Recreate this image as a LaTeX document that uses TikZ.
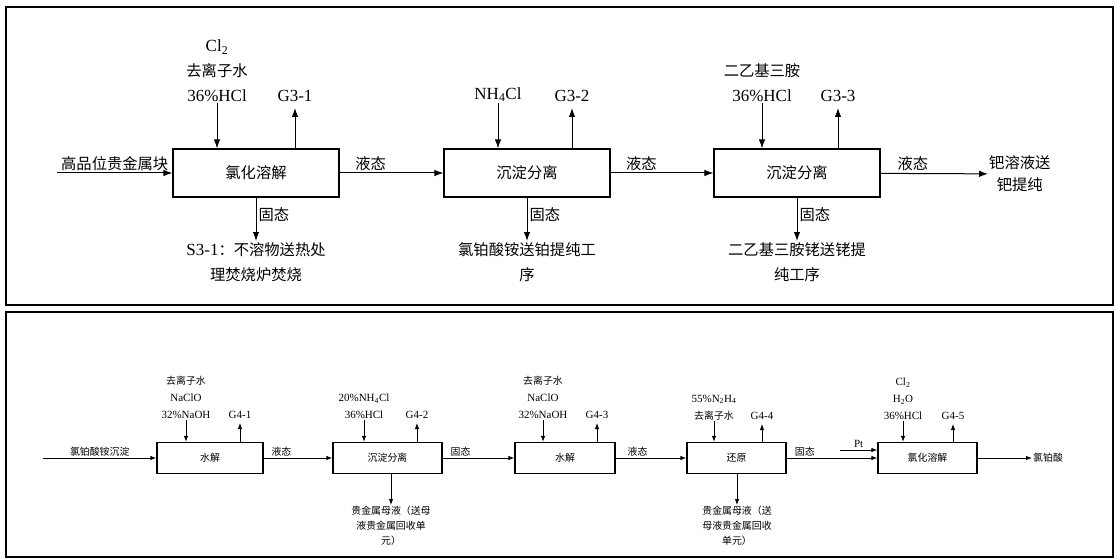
\documentclass[tikz,border=0pt]{standalone}
\usepackage{fontspec}
\setmainfont{Liberation Serif}
\newfontfamily\cjk[Scale=0.9]{Noto Sans CJK SC}
\usetikzlibrary{arrows.meta}
\newcommand{\zh}[1]{{\cjk #1}}
\begin{document}
\begin{tikzpicture}[x=1pt,y=-1pt,
  frame/.style={draw, line width=1.6pt},
  topbox/.style={draw, line width=1.2pt, minimum height=48pt, minimum width=166pt, inner sep=0pt, font=\fontsize{17}{22}\selectfont},
  toplab/.style={align=center, inner sep=1pt, font=\fontsize{17}{25}\selectfont},
  topflow/.style={inner sep=2pt, font=\fontsize{17}{22}\selectfont},
  toparr/.style={line width=1pt, -{Latex[length=9pt,width=6.5pt]}},
  botbox/.style={draw, line width=1.2pt, minimum height=31pt, inner sep=0pt, font=\fontsize{11}{15}\selectfont},
  botlab/.style={align=center, inner sep=1pt, font=\fontsize{11}{17}\selectfont},
  botflow/.style={inner sep=1.5pt, font=\fontsize{11}{15}\selectfont},
  botarr/.style={line width=0.9pt, -{Latex[length=6pt,width=4.5pt]}},
]
\useasboundingbox (0,0) rectangle (1117,559);
\draw[frame] (6,7) rectangle (1113,305);
\draw[frame] (6,312) rectangle (1113,557);

% ---------- top row ----------
\node[topbox] (t1) at (256,173) {\zh{氯化溶解}};
\node[topbox] (t2) at (527,173) {\zh{沉淀分离}};
\node[topbox] (t3) at (797,173) {\zh{沉淀分离}};

\node[toplab, anchor=south] (t1in) at (217,103) {Cl\textsubscript{2}\\\zh{去离子水}\\36\%HCl};
\node[toplab, anchor=south] (g31) at (295,103) {G3-1};
\node[toplab, anchor=south] (t2in) at (498,103) {NH\textsubscript{4}Cl};
\node[toplab, anchor=south] (g32) at (572,103) {G3-2};
\node[toplab, anchor=south] (t3in) at (762,103) {\zh{二乙基三胺}\\36\%HCl};
\node[toplab, anchor=south] (g33) at (838,103) {G3-3};

\draw[toparr] (t1in.south) -- (t1in.south |- t1.north);
\draw[toparr] (t2in.south) -- (t2in.south |- t2.north);
\draw[toparr] (t3in.south) -- (t3in.south |- t3.north);
\draw[toparr, shorten >=5pt] (g31.south |- t1.north) -- (g31.south);
\draw[toparr, shorten >=5pt] (g32.south |- t2.north) -- (g32.south);
\draw[toparr, shorten >=5pt] (g33.south |- t3.north) -- (g33.south);

\node[toplab, anchor=north] (s1) at (256,241) {S3-1\zh{：不溶物送热处}\\\zh{理焚烧炉焚烧}};
\node[toplab, anchor=north] (s2) at (527,241) {\zh{氯铂酸铵送铂提纯工}\\\zh{序}};
\node[toplab, anchor=north] (s3) at (797,241) {\zh{二乙基三胺铑送铑提}\\\zh{纯工序}};
\draw[toparr] (t1.south) -- node[topflow, right, pos=0.4] {\zh{固态}} (s1.north);
\draw[toparr] (t2.south) -- node[topflow, right, pos=0.4] {\zh{固态}} (s2.north);
\draw[toparr] (t3.south) -- node[topflow, right, pos=0.4] {\zh{固态}} (s3.north);

\coordinate (src) at (57,173);
\draw[toparr] (src) -- node[topflow, above] {\zh{高品位贵金属块}} (t1);
\draw[toparr] (t1) -- node[topflow, above, pos=0.3] {\zh{液态}} (t2);
\draw[toparr] (t2) -- node[topflow, above, pos=0.3] {\zh{液态}} (t3);
\node[toplab, anchor=west, font=\fontsize{17}{22}\selectfont] (out) at (988,174) {\zh{钯溶液送}\\\zh{钯提纯}};
\draw[toparr] (t3) -- node[topflow, above, pos=0.3] {\zh{液态}} (out);

% ---------- bottom row ----------
\node[botbox, minimum width=106pt] (b1) at (210,458) {\zh{水解}};
\node[botbox, minimum width=109pt] (b2) at (387.5,458) {\zh{沉淀分离}};
\node[botbox, minimum width=100pt] (b3) at (565,458) {\zh{水解}};
\node[botbox, minimum width=99pt] (b4) at (736.5,458) {\zh{还原}};
\node[botbox, minimum width=99pt] (b5) at (927.5,458) {\zh{氯化溶解}};

\node[botlab, anchor=south] (b1in) at (186,420) {\zh{去离子水}\\NaClO\\32\%NaOH};
\node[botlab, anchor=south] (g41) at (240,420) {G4-1};
\node[botlab, anchor=south] (b2in) at (364,420) {20\%NH\textsubscript{4}Cl\\36\%HCl};
\node[botlab, anchor=south] (g42) at (417,420) {G4-2};
\node[botlab, anchor=south] (b3in) at (543,420) {\zh{去离子水}\\NaClO\\32\%NaOH};
\node[botlab, anchor=south] (g43) at (597,420) {G4-3};
\node[botlab, anchor=south] (b4in) at (714,421) {55\%N\textsubscript{2}H\textsubscript{4}\\\zh{去离子水}};
\node[botlab, anchor=south] (g44) at (762,421) {G4-4};
\node[botlab, anchor=south] (b5in) at (903,421) {Cl\textsubscript{2}\\H\textsubscript{2}O\\36\%HCl};
\node[botlab, anchor=south] (g45) at (953,421) {G4-5};

\draw[botarr] (b1in.south) -- (b1in.south |- b1.north);
\draw[botarr] (b2in.south) -- (b2in.south |- b2.north);
\draw[botarr] (b3in.south) -- (b3in.south |- b3.north);
\draw[botarr] (b4in.south) -- (b4in.south |- b4.north);
\draw[botarr] (b5in.south) -- (b5in.south |- b5.north);
\draw[botarr, shorten >=3pt] (g41.south |- b1.north) -- (g41.south);
\draw[botarr, shorten >=3pt] (g42.south |- b2.north) -- (g42.south);
\draw[botarr, shorten >=3pt] (g43.south |- b3.north) -- (g43.south);
\draw[botarr, shorten >=3pt] (g44.south |- b4.north) -- (g44.south);
\draw[botarr, shorten >=3pt] (g45.south |- b5.north) -- (g45.south);

\node[botlab, anchor=north, font=\fontsize{11}{15}\selectfont] (m1) at (391,505) {\zh{贵金属母液（送母}\\\zh{液贵金属回收单}\\\zh{元）}};
\node[botlab, anchor=north, font=\fontsize{11}{15}\selectfont] (m2) at (737,505) {\zh{贵金属母液（送}\\\zh{母液贵金属回收}\\\zh{单元）}};
\draw[botarr] (b2.south -| m1.north) -- (m1.north);
\draw[botarr] (b4.south -| m2.north) -- (m2.north);

\coordinate (bsrc) at (43,458);
\draw[botarr] (bsrc) -- node[botflow, above] {\zh{氯铂酸铵沉淀}} (b1);
\draw[botarr] (b1) -- node[botflow, above, pos=0.26] {\zh{液态}} (b2);
\draw[botarr] (b2) -- node[botflow, above, pos=0.25] {\zh{固态}} (b3);
\draw[botarr] (b3) -- node[botflow, above, pos=0.31] {\zh{液态}} (b4);
\draw[botarr] (b4) -- node[botflow, above, pos=0.2] {\zh{固态}} (b5);
\coordinate (pt) at (840,450);
\draw[botarr] (pt) -- node[botflow, above] {Pt} (pt -| b5.west);
\node[botlab, anchor=west] (prod) at (1032,458) {\zh{氯铂酸}};
\draw[botarr] (b5) -- (prod);
\end{tikzpicture}
\end{document}
